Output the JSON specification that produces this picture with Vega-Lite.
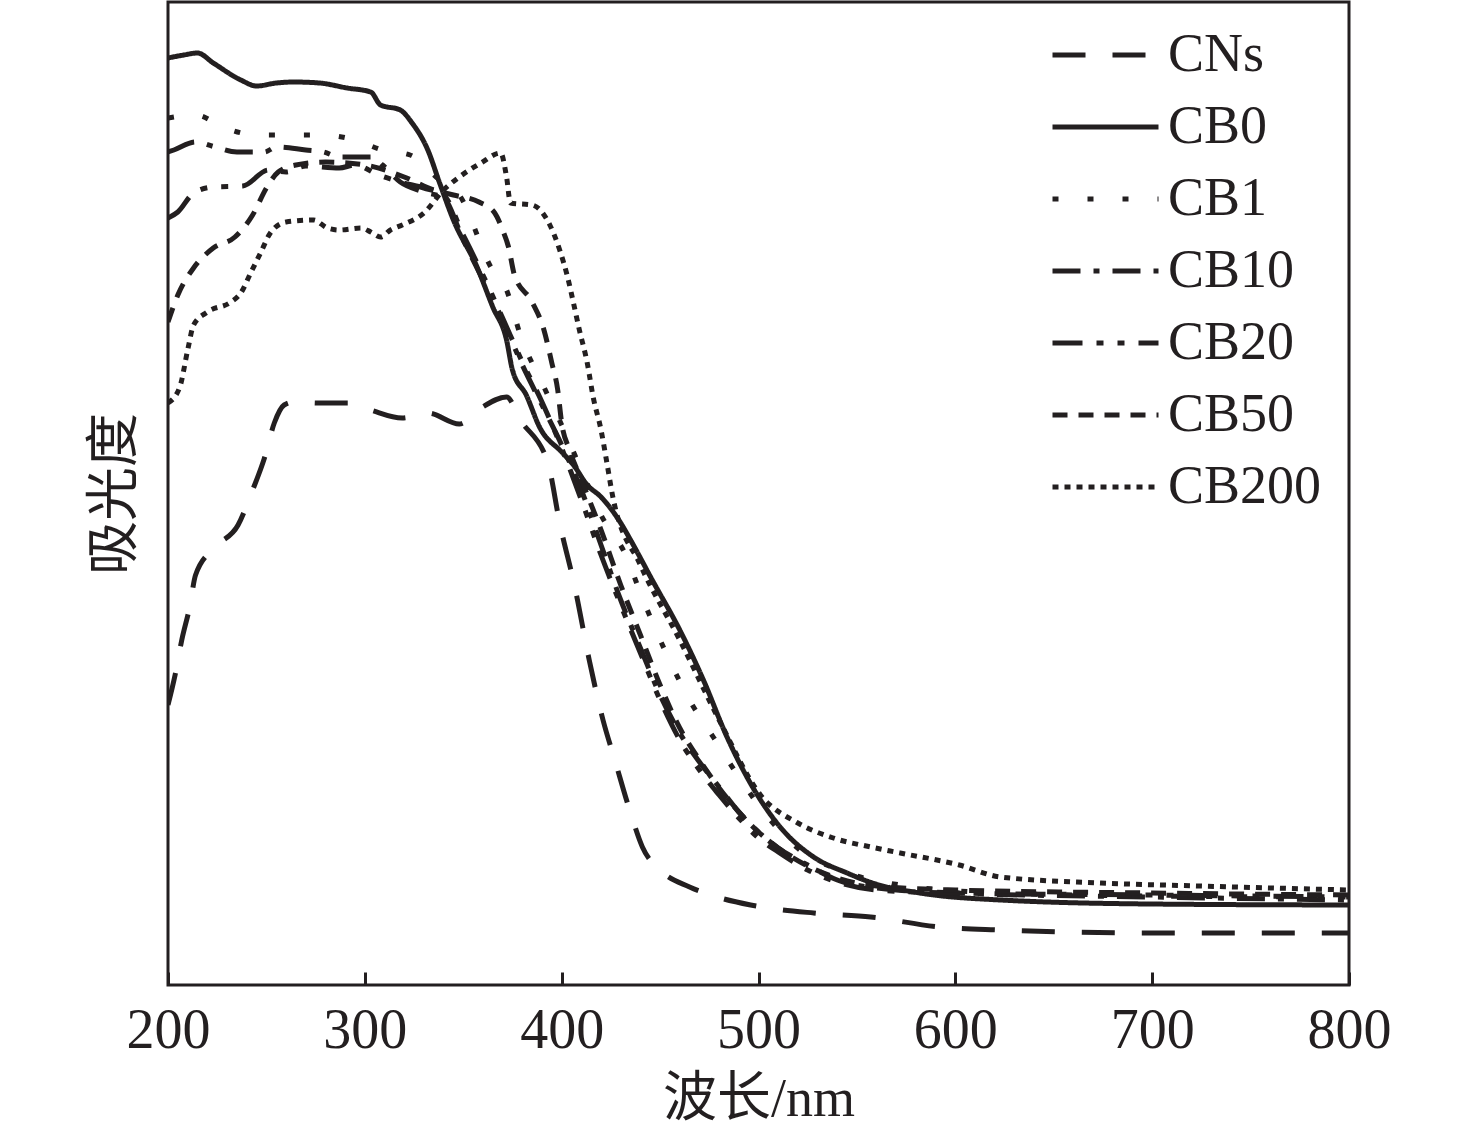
{
  "$schema": "https://vega.github.io/schema/vega-lite/v6.json",
  "width": 1181,
  "height": 983,
  "autosize": {"type": "none"},
  "padding": {"left": 168, "top": 2, "right": 127, "bottom": 148},
  "background": "white",
  "config": {"view": {"stroke": "#231f20", "strokeWidth": 3}},
  "data": {"values": [
    {"s":"CNs","x":200,"y":0.280},{"s":"CNs","x":203.6,"y":0.310},{"s":"CNs","x":207,"y":0.345},{"s":"CNs","x":211,"y":0.378},{"s":"CNs","x":214,"y":0.410},{"s":"CNs","x":224,"y":0.438},{"s":"CNs","x":235.6,"y":0.460},{"s":"CNs","x":243,"y":0.495},{"s":"CNs","x":249,"y":0.527},{"s":"CNs","x":254,"y":0.562},{"s":"CNs","x":259,"y":0.580},{"s":"CNs","x":264,"y":0.583},{"s":"CNs","x":277,"y":0.582},{"s":"CNs","x":292,"y":0.582},{"s":"CNs","x":303,"y":0.575},{"s":"CNs","x":319,"y":0.567},{"s":"CNs","x":332,"y":0.572},{"s":"CNs","x":348,"y":0.561},{"s":"CNs","x":359,"y":0.577},{"s":"CNs","x":372,"y":0.588},{"s":"CNs","x":379,"y":0.565},{"s":"CNs","x":393,"y":0.522},{"s":"CNs","x":399,"y":0.462},{"s":"CNs","x":407,"y":0.395},{"s":"CNs","x":414,"y":0.325},{"s":"CNs","x":421,"y":0.265},{"s":"CNs","x":427,"y":0.225},{"s":"CNs","x":435,"y":0.172},{"s":"CNs","x":441,"y":0.138},{"s":"CNs","x":450,"y":0.115},{"s":"CNs","x":465,"y":0.098},{"s":"CNs","x":479,"y":0.088},{"s":"CNs","x":496,"y":0.080},{"s":"CNs","x":528,"y":0.072},{"s":"CNs","x":557,"y":0.068},{"s":"CNs","x":592,"y":0.058},{"s":"CNs","x":623,"y":0.055},{"s":"CNs","x":699,"y":0.052},{"s":"CNs","x":800,"y":0.052},

    {"s":"CB0","x":200,"y":0.927},{"s":"CB0","x":208,"y":0.930},{"s":"CB0","x":215,"y":0.932},{"s":"CB0","x":223,"y":0.922},{"s":"CB0","x":237,"y":0.905},{"s":"CB0","x":245,"y":0.899},{"s":"CB0","x":255,"y":0.902},{"s":"CB0","x":264,"y":0.903},{"s":"CB0","x":277,"y":0.902},{"s":"CB0","x":291,"y":0.897},{"s":"CB0","x":303,"y":0.893},{"s":"CB0","x":308,"y":0.880},{"s":"CB0","x":318,"y":0.875},{"s":"CB0","x":324,"y":0.862},{"s":"CB0","x":332,"y":0.835},{"s":"CB0","x":338,"y":0.802},{"s":"CB0","x":345,"y":0.765},{"s":"CB0","x":357,"y":0.718},{"s":"CB0","x":365,"y":0.678},{"s":"CB0","x":372,"y":0.645},{"s":"CB0","x":375,"y":0.615},{"s":"CB0","x":382,"y":0.590},{"s":"CB0","x":389,"y":0.557},{"s":"CB0","x":400,"y":0.533},{"s":"CB0","x":406,"y":0.520},{"s":"CB0","x":413,"y":0.500},{"s":"CB0","x":420,"y":0.488},{"s":"CB0","x":430,"y":0.462},{"s":"CB0","x":435,"y":0.445},{"s":"CB0","x":446,"y":0.405},{"s":"CB0","x":460,"y":0.355},{"s":"CB0","x":472,"y":0.305},{"s":"CB0","x":484,"y":0.248},{"s":"CB0","x":497,"y":0.198},{"s":"CB0","x":511,"y":0.158},{"s":"CB0","x":528,"y":0.128},{"s":"CB0","x":545,"y":0.112},{"s":"CB0","x":558,"y":0.102},{"s":"CB0","x":582,"y":0.092},{"s":"CB0","x":623,"y":0.085},{"s":"CB0","x":699,"y":0.081},{"s":"CB0","x":800,"y":0.080},

    {"s":"CB1","x":200,"y":0.867},{"s":"CB1","x":214,"y":0.870},{"s":"CB1","x":229,"y":0.857},{"s":"CB1","x":245,"y":0.850},{"s":"CB1","x":260,"y":0.850},{"s":"CB1","x":278,"y":0.850},{"s":"CB1","x":295,"y":0.845},{"s":"CB1","x":309,"y":0.835},{"s":"CB1","x":323,"y":0.830},{"s":"CB1","x":338,"y":0.805},{"s":"CB1","x":348,"y":0.790},{"s":"CB1","x":364,"y":0.718},{"s":"CB1","x":372,"y":0.695},{"s":"CB1","x":379,"y":0.650},{"s":"CB1","x":391,"y":0.598},{"s":"CB1","x":400,"y":0.560},{"s":"CB1","x":410,"y":0.515},{"s":"CB1","x":420,"y":0.470},{"s":"CB1","x":433,"y":0.428},{"s":"CB1","x":440,"y":0.392},{"s":"CB1","x":454,"y":0.328},{"s":"CB1","x":467,"y":0.278},{"s":"CB1","x":477,"y":0.248},{"s":"CB1","x":491,"y":0.205},{"s":"CB1","x":506,"y":0.165},{"s":"CB1","x":521,"y":0.135},{"s":"CB1","x":541,"y":0.115},{"s":"CB1","x":572,"y":0.100},{"s":"CB1","x":623,"y":0.092},{"s":"CB1","x":700,"y":0.089},{"s":"CB1","x":800,"y":0.088},

    {"s":"CB10","x":200,"y":0.833},{"s":"CB10","x":203,"y":0.835},{"s":"CB10","x":214,"y":0.843},{"s":"CB10","x":224,"y":0.838},{"s":"CB10","x":235,"y":0.833},{"s":"CB10","x":249,"y":0.833},{"s":"CB10","x":255,"y":0.838},{"s":"CB10","x":270,"y":0.835},{"s":"CB10","x":279,"y":0.833},{"s":"CB10","x":287,"y":0.828},{"s":"CB10","x":304,"y":0.828},{"s":"CB10","x":309,"y":0.820},{"s":"CB10","x":318,"y":0.803},{"s":"CB10","x":330,"y":0.793},{"s":"CB10","x":340,"y":0.787},{"s":"CB10","x":350,"y":0.745},{"s":"CB10","x":360,"y":0.705},{"s":"CB10","x":370,"y":0.665},{"s":"CB10","x":380,"y":0.620},{"s":"CB10","x":390,"y":0.580},{"s":"CB10","x":400,"y":0.540},{"s":"CB10","x":410,"y":0.495},{"s":"CB10","x":420,"y":0.440},{"s":"CB10","x":430,"y":0.385},{"s":"CB10","x":440,"y":0.337},{"s":"CB10","x":450,"y":0.290},{"s":"CB10","x":460,"y":0.252},{"s":"CB10","x":470,"y":0.223},{"s":"CB10","x":480,"y":0.198},{"s":"CB10","x":490,"y":0.173},{"s":"CB10","x":500,"y":0.153},{"s":"CB10","x":510,"y":0.137},{"s":"CB10","x":525,"y":0.120},{"s":"CB10","x":540,"y":0.105},{"s":"CB10","x":560,"y":0.097},{"s":"CB10","x":600,"y":0.092},{"s":"CB10","x":700,"y":0.088},{"s":"CB10","x":800,"y":0.085},

    {"s":"CB20","x":200,"y":0.767},{"s":"CB20","x":205,"y":0.773},{"s":"CB20","x":213,"y":0.792},{"s":"CB20","x":223,"y":0.798},{"s":"CB20","x":238,"y":0.799},{"s":"CB20","x":251,"y":0.815},{"s":"CB20","x":260,"y":0.813},{"s":"CB20","x":270,"y":0.819},{"s":"CB20","x":287,"y":0.817},{"s":"CB20","x":295,"y":0.820},{"s":"CB20","x":307,"y":0.810},{"s":"CB20","x":318,"y":0.803},{"s":"CB20","x":330,"y":0.797},{"s":"CB20","x":340,"y":0.790},{"s":"CB20","x":350,"y":0.750},{"s":"CB20","x":360,"y":0.710},{"s":"CB20","x":370,"y":0.667},{"s":"CB20","x":380,"y":0.623},{"s":"CB20","x":390,"y":0.583},{"s":"CB20","x":400,"y":0.537},{"s":"CB20","x":410,"y":0.485},{"s":"CB20","x":420,"y":0.430},{"s":"CB20","x":430,"y":0.380},{"s":"CB20","x":440,"y":0.332},{"s":"CB20","x":450,"y":0.285},{"s":"CB20","x":460,"y":0.245},{"s":"CB20","x":470,"y":0.215},{"s":"CB20","x":480,"y":0.190},{"s":"CB20","x":490,"y":0.167},{"s":"CB20","x":500,"y":0.147},{"s":"CB20","x":510,"y":0.133},{"s":"CB20","x":525,"y":0.115},{"s":"CB20","x":540,"y":0.103},{"s":"CB20","x":560,"y":0.095},{"s":"CB20","x":600,"y":0.092},{"s":"CB20","x":700,"y":0.090},{"s":"CB20","x":800,"y":0.088},

    {"s":"CB50","x":200,"y":0.663},{"s":"CB50","x":205,"y":0.690},{"s":"CB50","x":213,"y":0.717},{"s":"CB50","x":223,"y":0.737},{"s":"CB50","x":234,"y":0.748},{"s":"CB50","x":243,"y":0.770},{"s":"CB50","x":250,"y":0.797},{"s":"CB50","x":256,"y":0.813},{"s":"CB50","x":265,"y":0.820},{"s":"CB50","x":280,"y":0.823},{"s":"CB50","x":300,"y":0.820},{"s":"CB50","x":320,"y":0.808},{"s":"CB50","x":335,"y":0.795},{"s":"CB50","x":345,"y":0.790},{"s":"CB50","x":358,"y":0.783},{"s":"CB50","x":366,"y":0.772},{"s":"CB50","x":370,"y":0.755},{"s":"CB50","x":373,"y":0.738},{"s":"CB50","x":376,"y":0.710},{"s":"CB50","x":385,"y":0.683},{"s":"CB50","x":391,"y":0.655},{"s":"CB50","x":395,"y":0.622},{"s":"CB50","x":398,"y":0.595},{"s":"CB50","x":400,"y":0.562},{"s":"CB50","x":404,"y":0.535},{"s":"CB50","x":410,"y":0.505},{"s":"CB50","x":420,"y":0.455},{"s":"CB50","x":430,"y":0.400},{"s":"CB50","x":440,"y":0.350},{"s":"CB50","x":450,"y":0.300},{"s":"CB50","x":460,"y":0.257},{"s":"CB50","x":470,"y":0.225},{"s":"CB50","x":480,"y":0.197},{"s":"CB50","x":490,"y":0.173},{"s":"CB50","x":500,"y":0.153},{"s":"CB50","x":510,"y":0.137},{"s":"CB50","x":525,"y":0.119},{"s":"CB50","x":540,"y":0.107},{"s":"CB50","x":560,"y":0.099},{"s":"CB50","x":600,"y":0.095},{"s":"CB50","x":700,"y":0.092},{"s":"CB50","x":800,"y":0.090},

    {"s":"CB200","x":200,"y":0.582},{"s":"CB200","x":206,"y":0.598},{"s":"CB200","x":210,"y":0.635},{"s":"CB200","x":213,"y":0.660},{"s":"CB200","x":220,"y":0.673},{"s":"CB200","x":232,"y":0.683},{"s":"CB200","x":237,"y":0.692},{"s":"CB200","x":242,"y":0.712},{"s":"CB200","x":247,"y":0.732},{"s":"CB200","x":252,"y":0.752},{"s":"CB200","x":260,"y":0.763},{"s":"CB200","x":274,"y":0.765},{"s":"CB200","x":281,"y":0.757},{"s":"CB200","x":287,"y":0.755},{"s":"CB200","x":298,"y":0.757},{"s":"CB200","x":303,"y":0.753},{"s":"CB200","x":308,"y":0.748},{"s":"CB200","x":313,"y":0.755},{"s":"CB200","x":319,"y":0.760},{"s":"CB200","x":330,"y":0.772},{"s":"CB200","x":340,"y":0.795},{"s":"CB200","x":348,"y":0.808},{"s":"CB200","x":359,"y":0.822},{"s":"CB200","x":369,"y":0.832},{"s":"CB200","x":372,"y":0.808},{"s":"CB200","x":374,"y":0.782},{"s":"CB200","x":385,"y":0.780},{"s":"CB200","x":394,"y":0.760},{"s":"CB200","x":399,"y":0.735},{"s":"CB200","x":403,"y":0.708},{"s":"CB200","x":406,"y":0.682},{"s":"CB200","x":409,"y":0.655},{"s":"CB200","x":413,"y":0.622},{"s":"CB200","x":416,"y":0.588},{"s":"CB200","x":420,"y":0.555},{"s":"CB200","x":423,"y":0.522},{"s":"CB200","x":426,"y":0.488},{"s":"CB200","x":440,"y":0.420},{"s":"CB200","x":460,"y":0.345},{"s":"CB200","x":480,"y":0.265},{"s":"CB200","x":501,"y":0.190},{"s":"CB200","x":520,"y":0.162},{"s":"CB200","x":538,"y":0.147},{"s":"CB200","x":557,"y":0.138},{"s":"CB200","x":572,"y":0.132},{"s":"CB200","x":602,"y":0.120},{"s":"CB200","x":623,"y":0.108},{"s":"CB200","x":674,"y":0.102},{"s":"CB200","x":724,"y":0.099},{"s":"CB200","x":800,"y":0.095}
  ]},
  "mark": {"type": "line", "strokeWidth": 5, "color": "#231f20", "interpolate": "monotone", "clip": true},
  "encoding": {
    "x": {
      "field": "x", "type": "quantitative",
      "scale": {"domain": [200, 800], "nice": false},
      "axis": {
        "values": [200, 300, 400, 500, 600, 700, 800],
        "title": "波长/nm",
        "titleFont": "Liberation Serif, Noto Sans CJK SC",
        "titleFontSize": 54, "titleFontWeight": "normal", "titleColor": "#231f20",
        "titlePadding": 14,
        "labelFont": "Liberation Serif", "labelFontSize": 56, "labelColor": "#231f20",
        "labelPadding": 31, "labelFlush": false,
        "tickColor": "#231f20", "tickSize": -13, "tickWidth": 3,
        "domain": false, "grid": false
      }
    },
    "y": {
      "field": "y", "type": "quantitative",
      "scale": {"domain": [0, 0.983], "nice": false, "zero": false},
      "axis": {
        "title": "吸光度",
        "titleFont": "Liberation Serif, Noto Sans CJK SC",
        "titleFontSize": 54, "titleFontWeight": "normal", "titleColor": "#231f20",
        "titlePadding": 26,
        "labels": false, "ticks": false, "domain": false, "grid": false
      }
    },
    "strokeDash": {
      "field": "s", "type": "nominal",
      "scale": {
        "domain": ["CNs", "CB0", "CB1", "CB10", "CB20", "CB50", "CB200"],
        "range": [[33, 27], [1, 0], [6, 29], [28, 13, 6, 13], [30, 14, 7, 14, 7, 14], [15, 11], [6, 6]]
      },
      "legend": {
        "title": null,
        "orient": "none", "legendX": 882, "legendY": 17,
        "symbolType": "stroke", "symbolSize": 11236, "symbolStrokeWidth": 5,
        "symbolStrokeColor": "#231f20",
        "labelFont": "Liberation Serif", "labelFontSize": 54, "labelColor": "#231f20",
        "labelOffset": 7, "rowPadding": 0, "clipHeight": 72
      }
    }
  }
}
